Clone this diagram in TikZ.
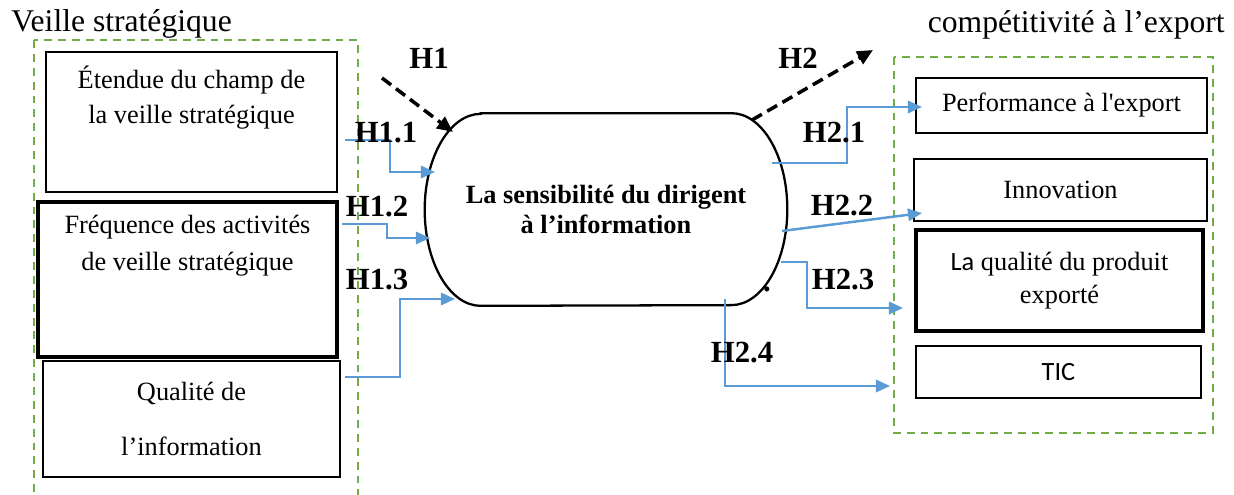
\documentclass[tikz,border=0pt]{standalone}
\usepackage{fontspec}
\setmainfont{Liberation Serif}[Ligatures=TeXOff]
\newfontfamily\calibri{Carlito}
\usetikzlibrary{arrows.meta}
\definecolor{sky}{RGB}{91,155,213}
\definecolor{moss}{RGB}{112,173,71}
\tikzset{
  >={Triangle[length=8pt,width=7pt]},
  box/.style={draw=black,line width=#1,inner sep=0pt,align=center,
    font=\fontsize{15}{20}\selectfont},
  box/.default=1.1pt,
  txt/.style={align=center,inner sep=0pt,font=\fontsize{15}{20}\selectfont},
  heading/.style={inner sep=0pt,font=\fontsize{18}{22}\selectfont},
  hyp/.style={inner sep=0pt,font=\bfseries\fontsize{17.5}{20}\selectfont},
  flow/.style={->,line width=1.4pt,draw=sky},
  bigflow/.style={->,line width=2pt,dash pattern=on 6.5pt off 3.5pt,
    >={Triangle[length=9pt,width=8pt]}},
  cluster/.style={draw=moss,line width=1.4pt,dash pattern=on 4.5pt off 3.4pt},
}

\begin{document}
\begin{tikzpicture}[x=0.02cm,y=-0.02cm]
  \useasboundingbox (0,0) rectangle (1234,494);
  % dashed groups
  \draw[cluster] (34,40) rectangle (358,530);
  \draw[cluster] (894,57) rectangle (1213,433);
  \node[heading,anchor=base west] (veille) at (11,31.5) {Veille stratégique};
  \node[heading,anchor=base east] (compet) at (1225,32) {compétitivité à l’export};

  % left side
  \node[box,minimum width=5.82cm,minimum height=2.8cm] (etendue) at (191.5,122) {};
  \node[txt] (etendue-t) at (191.5,97.5) {Étendue du champ de\\la veille stratégique};
  \node[box=2pt,minimum width=5.98cm,minimum height=3.1cm] (frequence) at (187.5,279.5) {};
  \node[txt,font=\fontsize{15}{21}\selectfont] (frequence-t) at (187.5,246)
    {Fréquence des activités\\de veille stratégique};
  \node[box=1.3pt,minimum width=5.94cm,minimum height=2.32cm,
    font=\fontsize{15}{31}\selectfont] (qualite) at (191.5,419) {Qualité de\\l’information};

  % centre
  \node[minimum width=7.24cm,minimum height=3.84cm,inner sep=0pt,align=center,
    font=\bfseries\fontsize{15}{17}\selectfont] (sens) at (606,209.5)
    {La sensibilité du dirigent\\à l’information};
  \draw[line width=1.3pt] ([xshift=1.12cm]sens.north west) -- ([xshift=-1.12cm]sens.north east)
    arc[start angle=90,end angle=-90,x radius=1.12cm,y radius=1.92cm]
    -- ([xshift=1.12cm]sens.south west)
    arc[start angle=270,end angle=90,x radius=1.12cm,y radius=1.92cm] -- cycle;

  % right side
  \node[box=1.2pt,minimum width=5.82cm,minimum height=1.1cm] (perf) at (1061.5,105.5)
    {Performance à l'export};
  \node[box=1.2pt,minimum width=5.86cm,minimum height=1.24cm] (innov) at (1060.5,190)
    {Innovation};
  \node[box=2pt,minimum width=5.74cm,minimum height=2.02cm,
    font=\fontsize{15}{19}\selectfont] (produit) at (1059.5,280.5)
    {{\calibri La} qualité du produit\\exporté};
  \node[box=1.6pt,minimum width=5.70cm,minimum height=1.04cm,
    font=\calibri\fontsize{15}{18}\selectfont] (tic) at (1058.5,372) {TIC};

  % connector ends
  \coordinate (h11) at (345,140);  \coordinate (h11e) at (435,172);
  \coordinate (h12) at (342,224);  \coordinate (h12e) at (430,238);
  \coordinate (h13) at (345,377);  \coordinate (h13e) at (455,299);
  \coordinate (h21) at (772,163);  \coordinate (h21e) at (922,107);
  \coordinate (h22) at (782,231);  \coordinate (h22e) at (922,213);
  \coordinate (h23) at (781,262);  \coordinate (h23e) at (903,308);
  \coordinate (h24) at (725,299);  \coordinate (h24e) at (890,386);
  \coordinate (h1) at (382,78);    \coordinate (h1e) at (453,132);
  \coordinate (h2) at (752,120);   \coordinate (h2e) at (873,50);

  \draw[bigflow] (h1) -- (h1e);
  \draw[bigflow] (h2) -- (h2e);
  \draw[flow] (h11) -| ([xshift=-0.9cm]h11e) -- (h11e);
  \draw[flow] (h12) -| ([xshift=-0.86cm]h12e) -- (h12e);
  \draw[flow] (h13) -| ([xshift=-1.1cm]h13e) -- (h13e);
  \draw[flow] (h21) -| ([xshift=-1.5cm]h21e) -- (h21e);
  \draw[flow] (h22) -- (h22e);
  \draw[flow] (h23) -| ([xshift=-1.92cm]h23e) -- (h23e);
  \draw[flow] (h24) |- (h24e);

  % labels
  \node[hyp] (l1) at (429,58) {H1};
  \node[hyp] (l2) at (798,58) {H2};
  \node[hyp] (l11) at (386,133) {H1.1};
  \node[hyp] (l12) at (377,207) {H1.2};
  \node[hyp] (l13) at (377,280) {H1.3};
  \node[hyp] (l21) at (834,133) {H2.1};
  \node[hyp] (l22) at (842,206) {H2.2};
  \node[hyp] (l23) at (843,280) {H2.3};
  \node[hyp] (l24) at (742,353) {H2.4};
  \node[hyp,anchor=base] (dot) at (767,291) {.};
\end{tikzpicture}
\end{document}
